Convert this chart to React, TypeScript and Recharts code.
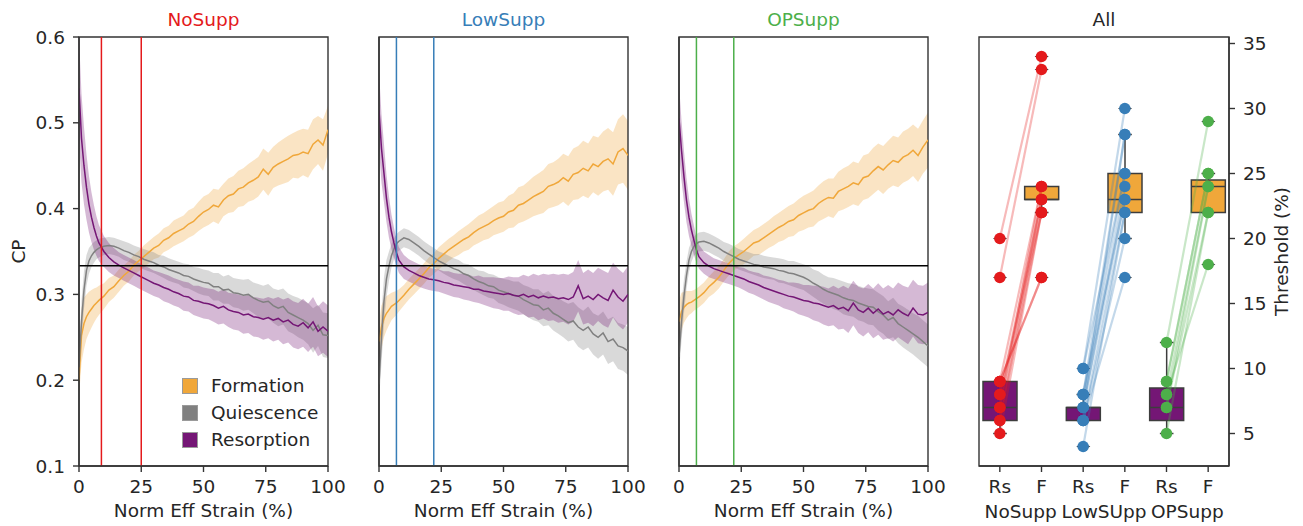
import {
  ComposedChart, Area, Line, Bar, Scatter, XAxis, YAxis, ReferenceLine, ReferenceArea, Label,
} from "recharts";

const FONT = "'DejaVu Sans', sans-serif";
const FS = 18.5;
const INK = "#262626";
const SPINE = "#333333";
const C_F = "#f0a73a";
const C_Q = "#808080";
const C_R = "#741675";
const RED = "#e41a1c";
const BLUE = "#377eb8";
const GREEN = "#4daf4a";

// strain axis (%)
const STRAIN = [0, 1, 2, 3, 4, 5, 6, 7, 8, 10, 12, 14, 16, 18, 20, 22, 24, 26, 28, 30, 32, 34, 36, 38, 40, 42, 44, 46, 48, 50,
  52, 54, 56, 58, 60, 62, 64, 66, 68, 70, 72, 74, 76, 78, 80, 82, 84, 86, 88, 90, 92, 94, 96, 98, 100];

// NoSupp: mean CP and half band width
const N_F = [.200, .252, .266, .274, .279, .283, .287, .290, .293,
  .298, .305, .309, .316, .322, .327, .334, .339, .344, .349,
  .354, .357, .363, .366, .371, .374, .377, .382, .385, .391,
  .396, .399, .404, .402, .410, .415, .417, .423, .425, .430,
  .433, .437, .446, .440, .448, .452, .455, .458, .462, .463,
  .466, .464, .475, .480, .474, .492];
const N_FW = [.020, .032, .030, .026, .024, .022, .020, .018, .017,
  .015, .014, .013, .013, .012, .012, .012, .012, .013, .013,
  .013, .014, .014, .014, .015, .015, .015, .016, .016, .017,
  .018, .018, .019, .020, .019, .020, .021, .021, .022, .022,
  .023, .023, .024, .025, .024, .025, .026, .027, .026, .028,
  .027, .028, .029, .028, .030, .028];
const N_Q = [.215, .268, .305, .328, .339, .345, .349, .352, .354,
  .356, .357, .356, .354, .351, .349, .346, .344, .341, .339,
  .337, .334, .332, .329, .327, .325, .322, .321, .318, .316,
  .314, .313, .309, .309, .305, .306, .302, .301, .299, .300,
  .296, .293, .291, .292, .287, .284, .286, .279, .276, .273,
  .270, .266, .258, .264, .253, .252];
const N_QW = [.015, .025, .022, .018, .015, .013, .012, .011, .011,
  .010, .010, .010, .010, .011, .011, .011, .011, .012, .012,
  .012, .012, .013, .013, .013, .013, .014, .014, .014, .015,
  .015, .015, .016, .016, .016, .017, .017, .017, .018, .018,
  .018, .019, .019, .020, .020, .021, .021, .022, .022, .023,
  .023, .024, .026, .024, .026, .026];
const N_R = [.540, .482, .450, .425, .405, .390, .378, .368, .360,
  .350, .343, .338, .334, .331, .328, .325, .322, .319, .316,
  .313, .311, .308, .306, .303, .301, .298, .297, .293, .292,
  .290, .289, .287, .284, .286, .282, .280, .279, .276, .277,
  .274, .273, .271, .273, .270, .272, .268, .270, .265, .263,
  .267, .261, .268, .257, .262, .257];
const N_RW = [.060, .052, .045, .038, .033, .029, .026, .023, .021,
  .018, .017, .016, .015, .015, .015, .015, .015, .015, .015,
  .015, .015, .016, .016, .016, .016, .017, .017, .017, .018,
  .018, .018, .019, .019, .020, .020, .021, .021, .022, .022,
  .023, .023, .024, .024, .025, .025, .026, .026, .027, .027,
  .028, .028, .029, .029, .030, .030];

// LowSupp
const L_F = [.245, .262, .272, .278, .282, .286, .288, .290, .293,
  .299, .306, .312, .318, .324, .331, .336, .342, .347, .352,
  .356, .360, .364, .367, .372, .376, .379, .382, .386, .389,
  .391, .396, .398, .404, .406, .410, .414, .417, .420, .426,
  .428, .431, .436, .432, .440, .442, .447, .444, .452, .449,
  .455, .458, .452, .466, .470, .462];
const L_FW = [.022, .025, .022, .020, .018, .016, .015, .014, .013,
  .012, .012, .012, .012, .012, .012, .012, .013, .013, .013,
  .013, .014, .014, .015, .015, .016, .016, .017, .017, .018,
  .018, .019, .020, .021, .021, .022, .023, .024, .025, .026,
  .026, .027, .028, .029, .030, .031, .032, .032, .033, .034,
  .035, .036, .037, .038, .040, .040];
const L_Q = [.195, .250, .292, .318, .333, .345, .353, .359, .362,
  .366, .364, .360, .356, .351, .347, .343, .339, .336, .333,
  .330, .328, .324, .322, .318, .315, .313, .310, .309, .305,
  .303, .301, .299, .298, .294, .291, .288, .287, .282, .284,
  .278, .275, .271, .267, .269, .262, .258, .262, .254, .250,
  .255, .245, .248, .240, .238, .234];
const L_QW = [.020, .030, .028, .022, .017, .014, .012, .011, .011,
  .011, .011, .011, .011, .011, .011, .011, .011, .012, .012,
  .012, .012, .012, .013, .013, .013, .014, .014, .014, .015,
  .015, .016, .016, .017, .017, .018, .018, .019, .019, .020,
  .020, .021, .021, .022, .022, .023, .023, .024, .024, .025,
  .025, .026, .026, .027, .027, .028];
const L_R = [.515, .470, .441, .412, .390, .373, .360, .349, .340,
  .332, .328, .325, .322, .320, .318, .317, .316, .314, .313,
  .311, .310, .309, .308, .306, .306, .304, .303, .302, .301,
  .300, .301, .299, .298, .300, .297, .299, .296, .298, .296,
  .297, .295, .296, .294, .297, .310, .295, .298, .294, .300,
  .296, .293, .305, .297, .292, .300];
const L_RW = [.045, .040, .034, .028, .024, .020, .018, .016, .015,
  .014, .013, .013, .013, .013, .013, .013, .013, .013, .014,
  .014, .014, .015, .015, .015, .016, .016, .017, .018, .018,
  .019, .020, .021, .022, .023, .024, .025, .026, .026, .027,
  .027, .028, .028, .029, .029, .030, .030, .031, .031, .031,
  .032, .032, .032, .033, .033, .033];

// OPSupp
const O_F = [.268, .280, .285, .288, .290, .291, .293, .295, .297,
  .302, .309, .314, .320, .328, .336, .342, .346, .350, .355,
  .360, .362, .366, .370, .374, .378, .381, .385, .387, .392,
  .395, .398, .400, .406, .410, .413, .412, .420, .423, .426,
  .430, .428, .436, .438, .444, .449, .445, .451, .456, .454,
  .460, .463, .468, .462, .472, .480];
const O_FW = [.025, .022, .018, .016, .014, .013, .012, .012, .012,
  .012, .012, .013, .013, .013, .014, .014, .014, .015, .015,
  .015, .016, .016, .016, .017, .017, .018, .018, .019, .019,
  .020, .020, .021, .021, .022, .022, .023, .023, .024, .024,
  .025, .025, .026, .026, .027, .027, .028, .028, .029, .029,
  .030, .030, .030, .031, .031, .032];
const O_Q = [.227, .268, .298, .322, .340, .350, .356, .359, .361,
  .362, .360, .357, .354, .350, .347, .344, .341, .339, .337,
  .335, .334, .332, .331, .330, .328, .327, .325, .324, .322,
  .320, .317, .313, .310, .306, .303, .301, .299, .296, .294,
  .293, .290, .288, .286, .285, .280, .276, .270, .273, .266,
  .262, .258, .254, .250, .245, .240];
const O_QW = [.018, .022, .020, .016, .014, .012, .011, .011, .011,
  .011, .011, .011, .011, .011, .012, .012, .012, .012, .012,
  .012, .013, .013, .013, .013, .014, .014, .014, .015, .015,
  .015, .016, .016, .017, .017, .017, .018, .018, .019, .019,
  .019, .020, .020, .021, .021, .022, .022, .022, .023, .023,
  .024, .024, .024, .025, .025, .025];
const O_R = [.505, .468, .437, .410, .390, .375, .363, .352, .344,
  .337, .333, .330, .328, .326, .324, .322, .320, .318, .315,
  .313, .311, .308, .306, .304, .302, .300, .298, .297, .295,
  .293, .292, .290, .289, .287, .285, .287, .283, .285, .281,
  .290, .282, .279, .284, .278, .283, .277, .280, .276, .282,
  .278, .275, .284, .277, .276, .279];
const O_RW = [.040, .035, .030, .026, .022, .019, .017, .015, .014,
  .013, .013, .012, .012, .012, .012, .012, .012, .013, .013,
  .013, .014, .014, .015, .015, .015, .016, .016, .017, .018,
  .018, .019, .020, .021, .022, .022, .023, .024, .025, .026,
  .026, .027, .028, .028, .029, .030, .030, .031, .031, .032,
  .032, .033, .033, .034, .034, .035];

const X_TICKS = [0, 25, 50, 75, 100];
const CP_TICKS = [0.1, 0.2, 0.3, 0.4, 0.5, 0.6];
const THR_TICKS = [5, 10, 15, 20, 25, 30, 35];

// threshold box plots ("All")
const BOX_CATS = ["NoSupp-Rs", "NoSupp-F", "LowSupp-Rs", "LowSupp-F", "OPSupp-Rs", "OPSupp-F"];
const BOX_Q1 = [6, 23, 6, 22, 6, 22];
const BOX_MED = [7, 23, 7, 23, 7, 24];
const BOX_Q3 = [9, 24, 7, 25, 8.5, 24.5];
const BOX_LO = [5, 22, 6, 20, 5, 22];
const BOX_HI = [9, 24, 8, 28, 12, 25];
const BOX_FLIERS = [[17, 20], [17, 33, 34], [4, 10], [17, 30], [], [18, 29]];
const GROUP_LABELS = ["NoSupp", "LowSUpp", "OPSupp"];

// paired thresholds per sample (resorption -> formation)
const NOSUPP_RS = [20, 17, 9, 9, 8, 8, 7, 7, 6, 6, 5, 9];
const NOSUPP_F = [34, 33, 24, 17, 23, 22, 23, 24, 22, 23, 22, 17];
const LOWSUPP_RS = [10, 8, 8, 7, 7, 6, 6, 4, 7, 8, 6, 10];
const LOWSUPP_F = [30, 28, 25, 24, 23, 22, 20, 22, 28, 23, 17, 25];
const OPSUPP_RS = [12, 9, 8, 7, 7, 5, 8, 9];
const OPSUPP_F = [29, 25, 24, 24, 22, 22, 18, 25];

const TICK = { fill: INK, fontSize: FS };
const AXLINE = { stroke: SPINE, strokeWidth: 1.4 };
const ALL_W = 350, ALL_L = 26, ALL_R = 74;
const ALL_BAND = (ALL_W - ALL_L - ALL_R) / BOX_CATS.length;

const vLabel = (text: string, dx: number) => (props: any) => {
  const vb = props.viewBox || {};
  const x = vb.x + dx;
  const y = vb.y + vb.height / 2;
  return (
    <text x={x} y={y} transform={`rotate(-90 ${x} ${y})`} textAnchor="middle"
      dominantBaseline="central" fill={INK} fontSize={FS}>{text}</text>
  );
};

interface Series { f: number[]; fw: number[]; q: number[]; qw: number[]; r: number[]; rw: number[]; }

function StrainPanel({ title, color, s, thr, left, yw }:
  { title: string; color: string; s: Series; thr: number[]; left: number; yw: number }) {
  const showY = yw > 40;
  const data = STRAIN.map((x, i) => ({
    x,
    f: s.f[i], fb: [s.f[i] - s.fw[i], s.f[i] + s.fw[i]],
    q: s.q[i], qb: [s.q[i] - s.qw[i], s.q[i] + s.qw[i]],
    r: s.r[i], rb: [s.r[i] - s.rw[i], s.r[i] + s.rw[i]],
  }));
  return (
    <div style={{ position: "absolute", left, top: 0 }}>
      <ComposedChart width={yw + 249 + 24} height={526} data={data} margin={{ top: 37, right: 24, bottom: 0, left: 0 }}>
        <XAxis dataKey="x" type="number" domain={[0, 100]} ticks={X_TICKS} allowDataOverflow height={60}
          tickSize={6} tickMargin={8} tick={TICK} axisLine={AXLINE} tickLine={AXLINE} interval={0}>
          <Label value="Norm Eff Strain (%)" position="insideBottom" offset={9} fill={INK} fontSize={FS} />
        </XAxis>
        <YAxis type="number" domain={[0.1, 0.6]} ticks={CP_TICKS} allowDataOverflow width={yw}
          tickSize={showY ? 6 : 0} tickMargin={8} tick={showY ? TICK : false}
          tickLine={showY ? AXLINE : false} axisLine={AXLINE} interval={0}
          tickFormatter={(v: number) => v.toFixed(1)}>
          {showY && <Label content={vLabel("CP", 18)} />}
        </YAxis>
        <Area type="linear" dataKey={(d: any) => d.fb} stroke="none" fill={C_F} fillOpacity={0.3}
          isAnimationActive={false} activeDot={false} />
        <Area type="linear" dataKey={(d: any) => d.qb} stroke="none" fill={C_Q} fillOpacity={0.3}
          isAnimationActive={false} activeDot={false} />
        <Area type="linear" dataKey={(d: any) => d.rb} stroke="none" fill={C_R} fillOpacity={0.3}
          isAnimationActive={false} activeDot={false} />
        <Line type="linear" dataKey="f" stroke={C_F} strokeWidth={1.5} dot={false} activeDot={false} isAnimationActive={false} />
        <Line type="linear" dataKey="q" stroke={C_Q} strokeWidth={1.5} dot={false} activeDot={false} isAnimationActive={false} />
        <Line type="linear" dataKey="r" stroke={C_R} strokeWidth={1.5} dot={false} activeDot={false} isAnimationActive={false} />
        {thr.map((t) => <ReferenceLine key={t} x={t} stroke={color} strokeWidth={1.5} />)}
        <ReferenceLine y={1 / 3} stroke="#000" strokeWidth={1.5} />
        <ReferenceArea x1={0} x2={100} y1={0.1} y2={0.6} fill="none" fillOpacity={0} stroke={SPINE} strokeWidth={1.4}
          label={{ value: title, position: "top", offset: 11, fill: color, fontSize: FS }} />
      </ComposedChart>
    </div>
  );
}

function BoxShape(props: any) {
  const { x, y, width, height, payload } = props;
  const [q1, q3] = payload.box;
  const k = height / (q3 - q1);
  const py = (v: number) => y + (q3 - v) * k;
  const cx = x + width / 2;
  const cap = width / 5;
  const edge = "#3d3d3d";
  return (
    <g>
      <line x1={cx} x2={cx} y1={py(payload.hi)} y2={y} stroke={edge} strokeWidth={1.5} />
      <line x1={cx} x2={cx} y1={y + height} y2={py(payload.lo)} stroke={edge} strokeWidth={1.5} />
      <line x1={cx - cap} x2={cx + cap} y1={py(payload.hi)} y2={py(payload.hi)} stroke={edge} strokeWidth={1.5} />
      <line x1={cx - cap} x2={cx + cap} y1={py(payload.lo)} y2={py(payload.lo)} stroke={edge} strokeWidth={1.5} />
      {payload.fliers.map((v: number, i: number) => (
        <path key={i} d={`M${cx - 7},${py(v)} L${cx},${py(v) - 4} L${cx + 7},${py(v)} L${cx},${py(v) + 4} Z`} fill={edge} />
      ))}
      <rect x={x} y={y} width={width} height={height} fill={payload.fill} stroke={edge} strokeWidth={1.5} />
      <line x1={x} x2={x + width} y1={py(payload.med)} y2={py(payload.med)} stroke={edge} strokeWidth={1.5} />
    </g>
  );
}

// category tick: "Rs"/"F" plus the group name centred under each pair
function CatTick(p: any) {
  const [, lab] = String(p.payload.value).split("-");
  const idx = BOX_CATS.indexOf(p.payload.value);
  return (
    <g>
      <text x={p.x} y={p.y} dy="0.71em" textAnchor="middle" fill={INK} fontSize={FS}>{lab}</text>
      {idx % 2 === 1 && (
        <text x={p.x - ALL_BAND / 2} y={p.y + 25} dy="0.71em" textAnchor="middle" fill={INK} fontSize={FS}>
          {GROUP_LABELS[(idx - 1) / 2]}
        </text>
      )}
    </g>
  );
}

const noShape = () => <g />;

const GROUPS = [
  { name: "NoSupp", color: RED, rs: NOSUPP_RS, f: NOSUPP_F },
  { name: "LowSupp", color: BLUE, rs: LOWSUPP_RS, f: LOWSUPP_F },
  { name: "OPSupp", color: GREEN, rs: OPSUPP_RS, f: OPSUPP_F },
];

function AllPanel() {
  const rows = BOX_CATS.map((cat, i) => ({
    cat, box: [BOX_Q1[i], BOX_Q3[i]], med: BOX_MED[i], lo: BOX_LO[i], hi: BOX_HI[i],
    fliers: BOX_FLIERS[i], fill: i % 2 === 0 ? C_R : C_F,
  }));
  return (
    <div style={{ position: "absolute", left: 953, top: 0 }}>
      <ComposedChart width={ALL_W} height={526} data={rows} margin={{ top: 37, right: 0, bottom: 0, left: ALL_L }}>
        <XAxis dataKey="cat" type="category" allowDuplicatedCategory={false} height={60} tickSize={6} tickMargin={8}
          tick={CatTick} tickLine={AXLINE} axisLine={AXLINE} interval={0} />
        <YAxis orientation="right" type="number" domain={[2.5, 35.5]} allowDataOverflow ticks={THR_TICKS} width={ALL_R}
          tickSize={6} tickMargin={8} tick={TICK} tickLine={AXLINE} axisLine={AXLINE} interval={0}>
          <Label content={vLabel("Threshold (%)", 52)} />
        </YAxis>
        <Bar dataKey="box" barSize={34} shape={BoxShape} isAnimationActive={false} />
        {GROUPS.map((g) => g.rs.map((r, j) => (
          <Scatter key={g.name + j} dataKey="v" fill={g.color} shape={noShape} isAnimationActive={false}
            line={{ stroke: g.color, strokeOpacity: 0.3, strokeWidth: 2.2 }}
            data={[{ cat: `${g.name}-Rs`, v: r }, { cat: `${g.name}-F`, v: g.f[j] }]} />
        )))}
        {GROUPS.map((g) => (
          <Scatter key={"pts" + g.name} dataKey="v" fill={g.color} isAnimationActive={false}
            shape={(p: any) => <circle cx={p.cx} cy={p.cy} r={5.7} fill={g.color} />}
            data={[...g.rs.map((v) => ({ cat: `${g.name}-Rs`, v })), ...g.f.map((v) => ({ cat: `${g.name}-F`, v }))]} />
        ))}
        <ReferenceArea x1={BOX_CATS[0]} x2={BOX_CATS[5]} y1={2.5} y2={35.5} fill="none" fillOpacity={0} stroke={SPINE}
          strokeWidth={1.4} label={{ value: "All", position: "top", offset: 11, fill: INK, fontSize: FS }} />
      </ComposedChart>
    </div>
  );
}

const LEGEND = [
  { name: "Formation", color: C_F },
  { name: "Quiescence", color: C_Q },
  { name: "Resorption", color: C_R },
];

export default function App() {
  return (
    <div style={{ position: "absolute", left: 0, top: 0, width: 1303, height: 526, background: "#fff", fontFamily: FONT }}>
      <StrainPanel title="NoSupp" color={RED} s={{ f: N_F, fw: N_FW, q: N_Q, qw: N_QW, r: N_R, rw: N_RW }}
        thr={[9, 25]} left={0} yw={79} />
      <StrainPanel title="LowSupp" color={BLUE} s={{ f: L_F, fw: L_FW, q: L_Q, qw: L_QW, r: L_R, rw: L_RW }}
        thr={[7, 22]} left={353} yw={26} />
      <StrainPanel title="OPSupp" color={GREEN} s={{ f: O_F, fw: O_FW, q: O_Q, qw: O_QW, r: O_R, rw: O_RW }}
        thr={[7, 22]} left={653} yw={26} />
      <AllPanel />
      <div style={{ position: "absolute", left: 182, top: 372, fontSize: FS, color: INK }}>
        {LEGEND.map((l) => (
          <div key={l.name} style={{ display: "flex", alignItems: "center", height: 27 }}>
            <span style={{ width: 16, height: 16, background: l.color, border: "1px solid #9a9a9a", marginRight: 13, boxSizing: "border-box" }} />
            {l.name}
          </div>
        ))}
      </div>
    </div>
  );
}
